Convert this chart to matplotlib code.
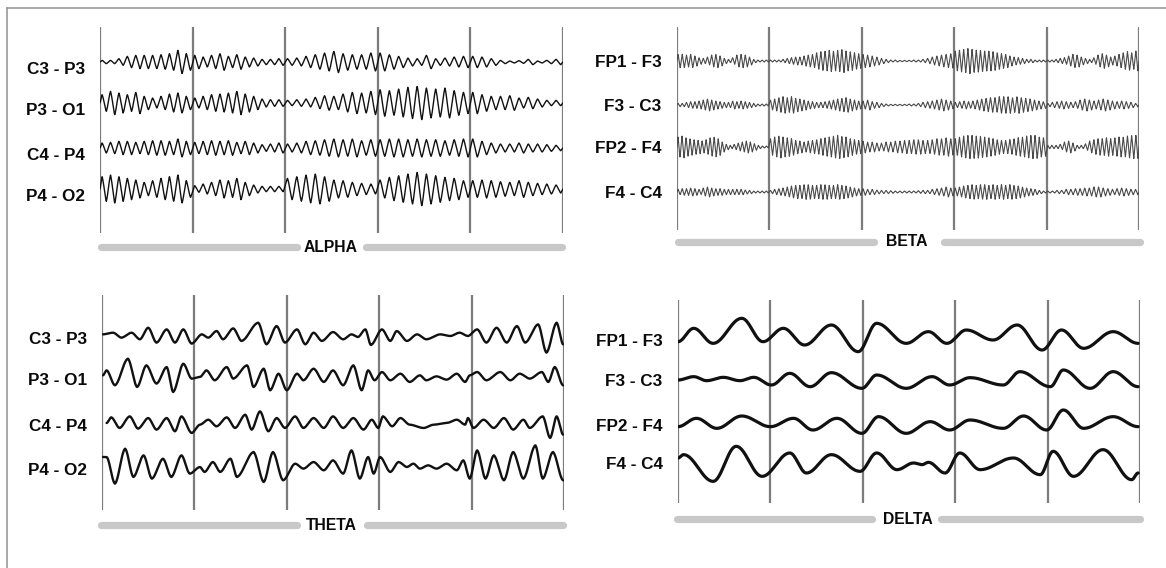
import numpy as np
import matplotlib
matplotlib.use("Agg")
import matplotlib.pyplot as plt
from matplotlib.lines import Line2D
from matplotlib.transforms import ScaledTranslation

plt.rcParams['font.family'] = ['Liberation Sans', 'DejaVu Sans']

# ---------------------------------------------------------------- data
# Channel montages for each band
alpha_channels = ["C3 - P3", "P3 - O1", "C4 - P4", "P4 - O2"]
beta_channels = ["FP1 - F3", "F3 - C3", "FP2 - F4", "F4 - C4"]
theta_channels = ["C3 - P3", "P3 - O1", "C4 - P4", "P4 - O2"]
delta_channels = ["FP1 - F3", "F3 - C3", "FP2 - F4", "F4 - C4"]

# Alpha: half peak-to-peak amplitude (uV) of every cycle, one list per 1 s epoch
alpha_c3_p3 = [[5, 5, 10, 17, 20, 20, 20, 22, 25, 35, 25],
               [20, 15, 20, 25, 17, 22, 15, 12, 8, 8, 10],
               [10, 12, 17, 22, 27, 32, 25, 22, 22, 27],
               [27, 22, 17, 12, 10, 20, 10, 12, 15, 17],
               [17, 15, 10, 5, 3, 4, 8, 3, 5, 8]]
alpha_p3_o1 = [[25, 35, 30, 25, 32, 20, 15, 20, 27, 30, 20],
               [15, 20, 25, 27, 30, 35, 27, 20, 12, 10, 10],
               [8, 10, 12, 17, 22, 20, 27, 32, 30, 35],
               [40, 37, 42, 47, 50, 45, 42, 45, 37, 32],
               [32, 25, 20, 20, 22, 15, 17, 12, 8, 8]]
alpha_c4_p4 = [[15, 17, 20, 20, 17, 20, 22, 22, 20, 27, 20],
               [17, 20, 22, 20, 22, 17, 20, 15, 10, 12, 15],
               [12, 15, 20, 22, 25, 27, 25, 27, 22, 25],
               [25, 27, 27, 25, 27, 25, 25, 22, 25, 27],
               [27, 20, 15, 12, 12, 15, 12, 12, 10, 8]]
alpha_p4_o2 = [[37, 42, 37, 32, 27, 20, 25, 32, 37, 42, 25],
               [10, 15, 20, 27, 25, 32, 20, 12, 8, 8, 8],
               [32, 37, 42, 45, 37, 27, 25, 20, 17, 15],
               [27, 35, 40, 45, 50, 45, 40, 35, 32, 25],
               [25, 27, 25, 22, 20, 25, 20, 17, 15, 12]]

# Beta: half peak-to-peak amplitude (uV) of every cycle, one list per 1 s epoch
beta_fp1_f3 = [[20, 20, 18, 20, 15, 10, 8, 12, 18, 20, 15, 8, 5, 10, 18, 20, 18, 12, 5, 3, 3, 3],
               [3, 3, 3, 5, 8, 10, 12, 12, 15, 18, 20, 25, 28, 30, 32, 30, 32, 35, 30, 28, 25, 22],
               [20, 18, 15, 12, 8, 5, 3, 3, 2, 2, 2, 3, 3, 5, 8, 12, 15, 18, 20, 22],
               [30, 33, 35, 38, 35, 33, 32, 30, 30, 28, 25, 22, 20, 15, 12, 10, 8, 5, 5, 3, 3, 3],
               [3, 3, 5, 8, 10, 15, 20, 18, 12, 8, 5, 10, 18, 22, 18, 12, 15, 20, 25, 28, 25, 30]]
beta_f3_c3 = [[5, 5, 8, 10, 10, 12, 15, 18, 15, 12, 10, 8, 8, 12, 10, 12, 10, 8, 5, 3, 3, 3],
              [15, 18, 22, 25, 22, 25, 20, 18, 15, 12, 10, 8, 8, 10, 12, 15, 18, 20, 22, 18, 15, 12],
              [12, 15, 10, 8, 5, 3, 2, 2, 2, 2, 3, 3, 5, 8, 10, 12, 15, 18, 15, 12],
              [8, 10, 12, 10, 12, 15, 18, 20, 22, 22, 25, 25, 25, 22, 25, 22, 20, 18, 15, 12, 10],
              [5, 8, 10, 12, 10, 8, 10, 15, 18, 15, 12, 15, 18, 15, 12, 10, 12, 10, 8, 5]]
beta_fp2_f4 = [[30, 33, 28, 25, 22, 20, 18, 22, 28, 30, 25, 15, 8, 5, 8, 12, 15, 18, 15, 10, 5, 3, 3],
               [25, 30, 33, 30, 28, 25, 20, 18, 15, 18, 20, 22, 25, 28, 30, 33, 35, 32, 30, 25, 22, 20],
               [18, 15, 15, 12, 12, 15, 15, 18, 18, 20, 20, 22, 22, 20, 20, 22, 25, 25, 28, 25],
               [25, 30, 33, 35, 35, 33, 32, 30, 28, 25, 22, 20, 20, 22, 25, 28, 30, 33, 35, 35, 30, 28],
               [5, 5, 5, 8, 15, 18, 12, 5, 5, 10, 18, 22, 25, 25, 28, 25, 28, 30, 30, 33, 35, 35]]
beta_f4_c4 = [[8, 10, 10, 12, 10, 8, 12, 15, 12, 10, 10, 8, 8, 8, 8, 8, 6, 5, 3, 3, 3, 3],
              [5, 8, 10, 12, 15, 18, 20, 20, 22, 22, 20, 20, 22, 22, 20, 20, 22, 20, 18, 15, 12, 10],
              [10, 8, 8, 6, 5, 5, 4, 3, 3, 3, 3, 3, 4, 5, 5, 8, 10, 12, 15, 12],
              [12, 15, 18, 20, 22, 20, 22, 22, 20, 22, 20, 22, 20, 22, 20, 18, 15, 12, 10, 8, 5, 3],
              [3, 3, 5, 5, 8, 8, 10, 10, 12, 12, 15, 15, 12, 10, 8, 10, 12, 10, 8, 8]]

# Theta: turning points of each trace, time (s) and deflection (uV, up positive)
theta_c3_p3_t = [0.01, 0.12, 0.21, 0.32, 0.41, 0.50, 0.59, 0.70, 0.79, 0.88, 0.97,
                 1.08, 1.15, 1.24, 1.31, 1.42, 1.51, 1.69, 1.78, 1.89, 1.98,
                 2.11, 2.20, 2.29, 2.38, 2.50, 2.61, 2.70, 2.77, 2.85, 2.91,
                 3.03, 3.12, 3.19, 3.30, 3.41, 3.51, 3.66, 3.77, 3.87, 3.96,
                 4.06, 4.16, 4.27, 4.38, 4.49, 4.58, 4.72, 4.81, 4.92, 4.99]
theta_c3_p3_uv = [5, 10, -5, 10, -10, 25, -20, 20, -20, 20, -23,
                  5, -5, 15, -10, 23, -15, 40, -25, 30, -20,
                  20, -25, 10, -15, 12, -10, 5, -3, 20, -27,
                  20, -15, 15, -15, 5, -10, 5, 0, 10, 0,
                  20, -20, 25, -20, 30, -20, 35, -50, 40, -25]
theta_p3_o1_t = [0.01, 0.05, 0.14, 0.28, 0.38, 0.48, 0.59, 0.70, 0.77, 0.88, 0.97,
                 1.06, 1.13, 1.22, 1.35, 1.42, 1.57, 1.64, 1.75, 1.82, 1.91, 2.00,
                 2.11, 2.18, 2.29, 2.40, 2.50, 2.61, 2.72, 2.81, 2.88, 2.95,
                 3.03, 3.12, 3.23, 3.33, 3.44, 3.51, 3.62, 3.73, 3.84, 3.93, 3.98,
                 4.06, 4.16, 4.31, 4.42, 4.52, 4.63, 4.76, 4.83, 4.90, 4.99]
theta_p3_o1_uv = [5, 20, -25, 55, -30, 35, -20, 30, -45, 40, -5,
                  0, 20, -10, 30, -5, 35, -30, 25, -40, 10, -40,
                  10, -10, 25, -15, 20, -25, 35, -40, 20, -10,
                  15, -10, 10, -15, 5, -10, 2, -8, 10, -15, 5,
                  15, -10, 15, -10, 10, -5, 15, -15, 30, -25]
theta_c4_p4_t = [0.05, 0.10, 0.19, 0.30, 0.39, 0.50, 0.59, 0.70, 0.79, 0.86, 0.97,
                 1.06, 1.15, 1.24, 1.35, 1.44, 1.55, 1.62, 1.71, 1.80, 1.89, 1.98,
                 2.09, 2.18, 2.29, 2.40, 2.50, 2.61, 2.72, 2.83, 2.92,
                 2.99, 3.04, 3.14, 3.23, 3.33, 3.48, 3.59, 3.73, 3.84, 3.93, 3.96,
                 4.02, 4.13, 4.24, 4.35, 4.45, 4.56, 4.63, 4.77, 4.85, 4.92, 4.99]
theta_c4_p4_uv = [0, 17, -15, 20, -17, 15, -20, 15, -25, 20, -30,
                  -5, 10, -10, 17, -15, 25, -20, 35, -25, 15, -15,
                  20, -15, 15, -15, 20, -15, 15, -20, 10,
                  -15, 20, -10, 15, -5, -15, -5, 0, 10, -5, 15,
                  -15, 10, -15, 15, -20, 10, -15, 20, -45, 20, -35]
theta_p4_o2_t = [0.01, 0.05, 0.14, 0.25, 0.34, 0.45, 0.54, 0.66, 0.75, 0.86, 0.95,
                 1.06, 1.11, 1.20, 1.28, 1.39, 1.46, 1.64, 1.75, 1.85, 1.96,
                 2.09, 2.18, 2.29, 2.40, 2.50, 2.61, 2.70, 2.79, 2.88, 2.94,
                 3.01, 3.12, 3.21, 3.30, 3.37, 3.44, 3.53, 3.62, 3.73, 3.84, 3.91, 3.98,
                 4.06, 4.15, 4.24, 4.35, 4.45, 4.56, 4.69, 4.77, 4.88, 4.99]
theta_p4_o2_uv = [30, 30, -50, 55, -30, 35, -35, 25, -30, 35, -20,
                  0, -15, 15, -15, 25, -30, 45, -45, 45, -40,
                  10, -5, 15, -10, 20, -20, 50, -35, 30, -20,
                  30, -15, 15, 0, 10, -5, 5, -5, 10, -10, 20, -35,
                  50, -35, 35, -40, 45, -35, 65, -35, 45, -40]

# Delta: turning points of each trace, time (s) and deflection (uV, up positive)
delta_fp1_f3_t = [0.00, 0.17, 0.38, 0.69, 0.92, 1.14, 1.37, 1.66, 1.95,
                  2.15, 2.47, 2.71, 2.91, 3.12, 3.41, 3.67, 3.94, 4.15, 4.39, 4.71, 4.98]
delta_fp1_f3_uv = [-5, 35, -10, 65, -5, 35, -15, 45, -35,
                   50, -10, 25, -10, 30, 0, 45, -30, 30, -25, 25, -10]
delta_f3_c3_t = [0.00, 0.17, 0.31, 0.49, 0.67, 0.82, 1.01, 1.21, 1.43, 1.66, 1.99,
                 2.15, 2.47, 2.75, 2.94, 3.16, 3.52, 3.70, 4.03, 4.17, 4.46, 4.71, 4.98]
delta_f3_c3_uv = [0, 10, -2, 8, -2, 8, -15, 20, -20, 22, -25,
                  15, -25, 10, -15, 7, -15, 25, -20, 30, -25, 25, -20]
delta_fp2_f4_t = [0.00, 0.20, 0.42, 0.69, 1.00, 1.25, 1.46, 1.72, 1.99,
                  2.17, 2.47, 2.73, 2.94, 3.16, 3.52, 3.74, 3.99, 4.17, 4.39, 4.71, 4.98]
delta_fp2_f4_uv = [-5, 20, -10, 27, -5, 20, -15, 20, -25,
                   25, -25, 10, -15, 15, -10, 27, -15, 45, -10, 25, -5]
delta_f4_c4_t = [0.00, 0.06, 0.38, 0.63, 0.91, 1.21, 1.39, 1.66, 1.97,
                 2.15, 2.37, 2.55, 2.64, 2.71, 2.89, 3.05, 3.27, 3.63, 3.92,
                 4.06, 4.28, 4.60, 4.91, 4.98]
delta_f4_c4_uv = [15, 25, -55, 50, -40, 30, -30, 25, -25,
                  30, -20, 0, -5, 2, -30, 30, -20, 15, -35,
                  35, -40, 40, -50, -30]


# ---------------------------------------------------------------- helpers
def cycles_to_turning_points(epochs):
    """Peak/trough times and values from per-cycle amplitudes of 1 s epochs."""
    ts, vs = [0.0], [0.0]
    for k, amps in enumerate(epochs):
        n = len(amps)
        for i, a in enumerate(amps):
            ts += [k + (i + 0.25) / n, k + (i + 0.75) / n]
            vs += [a, -a]
    ts.append(float(len(epochs)))
    vs.append(0.0)
    return np.array(ts), np.array(vs, dtype=float)


def smooth_trace(ts, vs, roundness=1.0, samples=6000):
    """Curve through turning points: half-cosine easing blended with straight
    segments (roundness 1 = fully rounded, 0 = sharp zig-zag)."""
    ts = np.asarray(ts, float)
    vs = np.asarray(vs, float)
    t = np.linspace(ts[0], ts[-1], samples)
    idx = np.clip(np.searchsorted(ts, t, side="right") - 1, 0, len(ts) - 2)
    t0, t1 = ts[idx], ts[idx + 1]
    span = np.where(t1 > t0, t1 - t0, 1.0)
    u = np.clip((t - t0) / span, 0, 1)
    w = roundness * (1 - np.cos(np.pi * u)) / 2 + (1 - roundness) * u
    return t, vs[idx] + (vs[idx + 1] - vs[idx]) * w


# ---------------------------------------------------------------- figure
W, H = 1166, 568
UV_PER_PX = 3.0
fig = plt.figure(figsize=(W / 100, H / 100), dpi=100)
fig.patch.set_facecolor("white")

GRID_COLOR = "#7c7c7c"
BAR_COLOR = "#c8c8c8"
TEXT_COLOR = "#0a0a0a"


def fx(px):
    return px / W


def fy(py):
    return 1 - py / H


def panel(x0, x1, top, bottom, rows_px, channels, traces, color, lw, roundness,
          bar_y, bar_left, bar_right, name, name_x, gap, label_drop=0):
    ax = fig.add_axes([fx(x0), fy(bottom), (x1 - x0) / W, (bottom - top) / H])
    ax.set_xlim(0, 5)
    ax.set_ylim(-(bottom - top) * UV_PER_PX, 0)
    for s in ax.spines.values():
        s.set_visible(False)
    ax.set_xticks([])
    baselines = [-(r - top) * UV_PER_PX for r in rows_px]
    ax.set_yticks(baselines)
    ax.set_yticklabels(channels, fontsize=12.3, fontweight="bold", color=TEXT_COLOR)
    ax.tick_params(axis="y", length=0, pad=11)
    if label_drop:
        shift = ScaledTranslation(0, -label_drop / 100, fig.dpi_scale_trans)
        for lab in ax.get_yticklabels():
            lab.set_transform(lab.get_transform() + shift)
    for sec in range(6):
        ax.axvline(sec, color=GRID_COLOR, lw=1.6, zorder=1)
    for base, (ts, vs) in zip(baselines, traces):
        t, v = smooth_trace(ts, vs, roundness)
        ax.plot(t, base + v, color=color, lw=lw, zorder=3,
                solid_joinstyle="round", solid_capstyle="round")
    # band bar with its name
    half = 3.5
    for a, b in [(bar_left, name_x - gap[0]), (name_x + gap[1], bar_right)]:
        fig.add_artist(Line2D([fx(a + half), fx(b - half)], [fy(bar_y), fy(bar_y)],
                              color=BAR_COLOR, lw=5.2, solid_capstyle="round"))
    fig.text(fx(name_x), fy(bar_y), name, ha="center", va="center",
             fontsize=11.3, fontweight="bold", color=TEXT_COLOR)
    return ax


alpha_traces = [cycles_to_turning_points(e) for e in
                [alpha_c3_p3, alpha_p3_o1, alpha_c4_p4, alpha_p4_o2]]
beta_traces = [cycles_to_turning_points(e) for e in
               [beta_fp1_f3, beta_f3_c3, beta_fp2_f4, beta_f4_c4]]
theta_traces = [(theta_c3_p3_t, theta_c3_p3_uv), (theta_p3_o1_t, theta_p3_o1_uv),
                (theta_c4_p4_t, theta_c4_p4_uv), (theta_p4_o2_t, theta_p4_o2_uv)]
delta_traces = [(delta_fp1_f3_t, delta_fp1_f3_uv), (delta_f3_c3_t, delta_f3_c3_uv),
                (delta_fp2_f4_t, delta_fp2_f4_uv), (delta_f4_c4_t, delta_f4_c4_uv)]

panel(100, 563, 27, 233, [62, 103, 148, 189], alpha_channels, alpha_traces,
      "#111111", 1.0, 0.45, 247, 97, 565, "ALPHA", 331, (31, 31), label_drop=6)
panel(677, 1139, 27, 230, [61, 105, 147, 192], beta_channels, beta_traces,
      "#4a4a4a", 0.8, 0.3, 242, 674, 1143, "BETA", 907, (30, 33))
panel(102, 564, 295, 510, [336, 377, 423, 467], theta_channels, theta_traces,
      "#111111", 1.7, 0.8, 525, 97, 566, "THETA", 331, (31, 32), label_drop=2)
panel(678, 1140, 300, 503, [340, 380, 425, 463], delta_channels, delta_traces,
      "#111111", 2.3, 1.0, 519, 673, 1143, "DELTA", 908, (33, 30))

# outer frame
frame = dict(color="#9a9a9a", lw=1.2)
fig.add_artist(Line2D([fx(7), fx(7)], [fy(8), fy(568)], **frame))
fig.add_artist(Line2D([fx(7), fx(1166)], [fy(8), fy(8)], **frame))

fig.savefig("out.png", dpi=100)
